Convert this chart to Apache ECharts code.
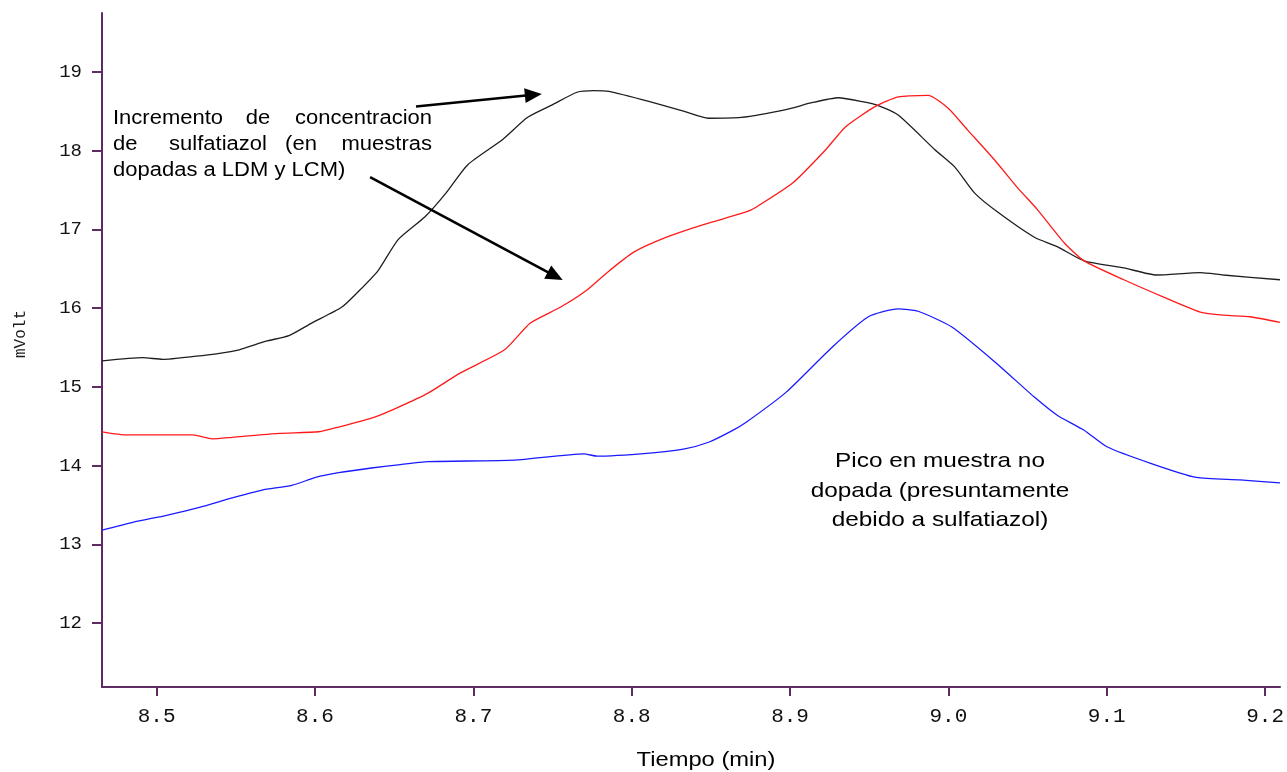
<!DOCTYPE html>
<html>
<head>
<meta charset="utf-8">
<script src="https://cdn.jsdelivr.net/npm/echarts@6/dist/echarts.min.js"></script>
<style>html,body{margin:0;padding:0;background:#fff;overflow:hidden;}#c{width:1287px;height:772px;}</style>
</head>
<body>
<div id="c"></div>
<script>
// ---- data ----
const xTicks = [8.5, 8.6, 8.7, 8.8, 8.9, 9.0, 9.1, 9.2];
const yTicks = [12, 13, 14, 15, 16, 17, 18, 19];

const blackTime = [8.4655, 8.4912, 8.5038, 8.5251, 8.5377, 8.5521, 8.5691, 8.5835, 8.5979, 8.6168, 8.6274, 8.6400, 8.6525, 8.6695, 8.6827, 8.6965, 8.7185, 8.7341, 8.7498, 8.7655, 8.7762, 8.7856, 8.8114, 8.8327, 8.8484, 8.8691, 8.8974, 8.9143, 8.9306, 8.9457, 8.9557, 8.9683, 8.9915, 9.0041, 9.0166, 9.0311, 9.0543, 9.0687, 9.0857, 9.1108, 9.1315, 9.1591, 9.1736, 9.2094];
const blackVal  = [15.33, 15.37, 15.35, 15.39, 15.42, 15.47, 15.58, 15.65, 15.81, 16.01, 16.21, 16.48, 16.87, 17.16, 17.46, 17.82, 18.14, 18.42, 18.58, 18.74, 18.76, 18.75, 18.62, 18.50, 18.41, 18.42, 18.52, 18.61, 18.67, 18.62, 18.57, 18.45, 18.01, 17.79, 17.46, 17.22, 16.90, 16.78, 16.60, 16.51, 16.42, 16.45, 16.42, 16.36];

const redTime = [8.4655, 8.4812, 8.5226, 8.5352, 8.5477, 8.5772, 8.6023, 8.6149, 8.6381, 8.6525, 8.6714, 8.6921, 8.7197, 8.7360, 8.7549, 8.7718, 8.7844, 8.8013, 8.8220, 8.8453, 8.8723, 8.8785, 8.9018, 8.9225, 8.9350, 8.9539, 8.9683, 8.9871, 8.9997, 9.0122, 9.0292, 9.0436, 9.0562, 9.0731, 9.0857, 9.1108, 9.1359, 9.1591, 9.1736, 9.1905, 9.2094];
const redVal  = [14.43, 14.39, 14.39, 14.34, 14.36, 14.41, 14.43, 14.49, 14.62, 14.74, 14.92, 15.18, 15.47, 15.81, 16.01, 16.23, 16.45, 16.71, 16.90, 17.06, 17.22, 17.28, 17.59, 18.01, 18.30, 18.56, 18.68, 18.70, 18.54, 18.26, 17.88, 17.53, 17.25, 16.83, 16.60, 16.36, 16.14, 15.95, 15.91, 15.89, 15.82];

const blueTime = [8.4655, 8.4849, 8.5063, 8.5270, 8.5477, 8.5665, 8.5854, 8.6004, 8.6149, 8.6356, 8.6525, 8.6714, 8.7260, 8.7699, 8.7781, 8.8114, 8.8327, 8.8490, 8.8641, 8.8723, 8.8974, 8.9269, 8.9495, 8.9683, 8.9809, 9.0022, 9.0292, 9.0543, 9.0687, 9.0857, 9.1001, 9.1277, 9.1566, 9.1842, 9.2094];
const blueVal  = [13.18, 13.28, 13.37, 13.47, 13.59, 13.69, 13.75, 13.85, 13.91, 13.97, 14.01, 14.05, 14.07, 14.15, 14.12, 14.16, 14.21, 14.30, 14.45, 14.55, 14.93, 15.51, 15.89, 15.99, 15.96, 15.76, 15.32, 14.87, 14.64, 14.45, 14.24, 14.03, 13.85, 13.82, 13.78];

// annotation arrows (data coordinates: start -> end)
const arrowUp   = [[8.6638, 18.56], [8.7379, 18.708]];
const arrowDown = [[8.6348, 17.662], [8.7517, 16.406]];

const zip = (t, v) => t.map((x, i) => [x, v[i]]);
const AX = '#5e2b62';

const chart = echarts.init(document.getElementById('c'), null, { width: 1287, height: 772 });
const lineBase = { type: 'line', showSymbol: false, symbol: 'none', smooth: 0.2, silent: true };

chart.setOption({
  animation: false,
  backgroundColor: '#ffffff',
  grid: { left: 102, right: 0, top: 13, bottom: 85, containLabel: false },
  xAxis: {
    type: 'value', min: 8.4655, max: 9.2094,
    axisLine: { show: true, onZero: false, lineStyle: { color: AX, width: 2 } },
    axisTick: { show: true, customValues: xTicks, length: 9, lineStyle: { color: AX, width: 2 } },
    axisLabel: { customValues: xTicks, formatter: v => v.toFixed(1), fontFamily: 'Liberation Mono', fontSize: 21, color: '#111', margin: 19 },
    splitLine: { show: false }
  },
  yAxis: {
    type: 'value', min: 11.19, max: 19.746,
    axisLine: { show: true, onZero: false, lineStyle: { color: AX, width: 2 } },
    axisTick: { show: true, customValues: yTicks, length: 10, lineStyle: { color: AX, width: 2 } },
    axisLabel: { customValues: yTicks, formatter: v => String(v), fontFamily: 'Liberation Mono', fontSize: 19, color: '#111', margin: 20 },
    splitLine: { show: false }
  },
  series: [
    Object.assign({}, lineBase, {
      name: 'black', data: zip(blackTime, blackVal),
      lineStyle: { color: '#1e1e1e', width: 1.3 },
      markLine: {
        silent: true, animation: false,
        symbol: ['none', 'triangle'], symbolSize: [15, 17],
        lineStyle: { color: '#000', width: 2.6, type: 'solid' },
        label: { show: false },
        data: [
          [{ coord: arrowUp[0] }, { coord: arrowUp[1] }],
          [{ coord: arrowDown[0] }, { coord: arrowDown[1] }]
        ]
      }
    }),
    Object.assign({}, lineBase, { name: 'red', data: zip(redTime, redVal), lineStyle: { color: '#ff1a1a', width: 1.3 } }),
    Object.assign({}, lineBase, { name: 'blue', data: zip(blueTime, blueVal), lineStyle: { color: '#1a1aff', width: 1.3 } })
  ],
  graphic: [
    // upper annotation (justified text)
    { type: 'text', x: 113, y: 118, scaleX: 1.1, style: { text: 'Incremento', x: 0, y: 0, align: 'left', verticalAlign: 'middle', font: '20px "Liberation Sans"', fill: '#000' } },
    { type: 'text', x: 258, y: 118, scaleX: 1.1, style: { text: 'de', x: 0, y: 0, align: 'center', verticalAlign: 'middle', font: '20px "Liberation Sans"', fill: '#000' } },
    { type: 'text', x: 432, y: 118, scaleX: 1.1, style: { text: 'concentracion', x: 0, y: 0, align: 'right', verticalAlign: 'middle', font: '20px "Liberation Sans"', fill: '#000' } },
    { type: 'text', x: 113, y: 144, scaleX: 1.1, style: { text: 'de', x: 0, y: 0, align: 'left', verticalAlign: 'middle', font: '20px "Liberation Sans"', fill: '#000' } },
    { type: 'text', x: 218, y: 144, scaleX: 1.1, style: { text: 'sulfatiazol', x: 0, y: 0, align: 'center', verticalAlign: 'middle', font: '20px "Liberation Sans"', fill: '#000' } },
    { type: 'text', x: 301, y: 144, scaleX: 1.1, style: { text: '(en', x: 0, y: 0, align: 'center', verticalAlign: 'middle', font: '20px "Liberation Sans"', fill: '#000' } },
    { type: 'text', x: 432, y: 144, scaleX: 1.1, style: { text: 'muestras', x: 0, y: 0, align: 'right', verticalAlign: 'middle', font: '20px "Liberation Sans"', fill: '#000' } },
    { type: 'text', x: 113, y: 170, scaleX: 1.1, style: { text: 'dopadas a LDM y LCM)', x: 0, y: 0, align: 'left', verticalAlign: 'middle', font: '20px "Liberation Sans"', fill: '#000' } },
    // lower annotation
    { type: 'text', x: 940, y: 491, scaleX: 1.16, style: { text: 'Pico en muestra no\ndopada (presuntamente\ndebido a sulfatiazol)', x: 0, y: 0, align: 'center', verticalAlign: 'middle', lineHeight: 29.5, font: '21px "Liberation Sans"', fill: '#000' } },
    // axis titles
    { type: 'text', x: 706, y: 760, scaleX: 1.13, style: { text: 'Tiempo (min)', x: 0, y: 0, align: 'center', verticalAlign: 'middle', font: '21px "Liberation Sans"', fill: '#000' } },
    { type: 'text', x: 21, y: 334, rotation: Math.PI / 2, style: { text: 'mVolt', x: 0, y: 0, align: 'center', verticalAlign: 'middle', font: '16px "Liberation Mono"', fill: '#1a1a1a' } }
  ]
});
</script>
</body>
</html>
